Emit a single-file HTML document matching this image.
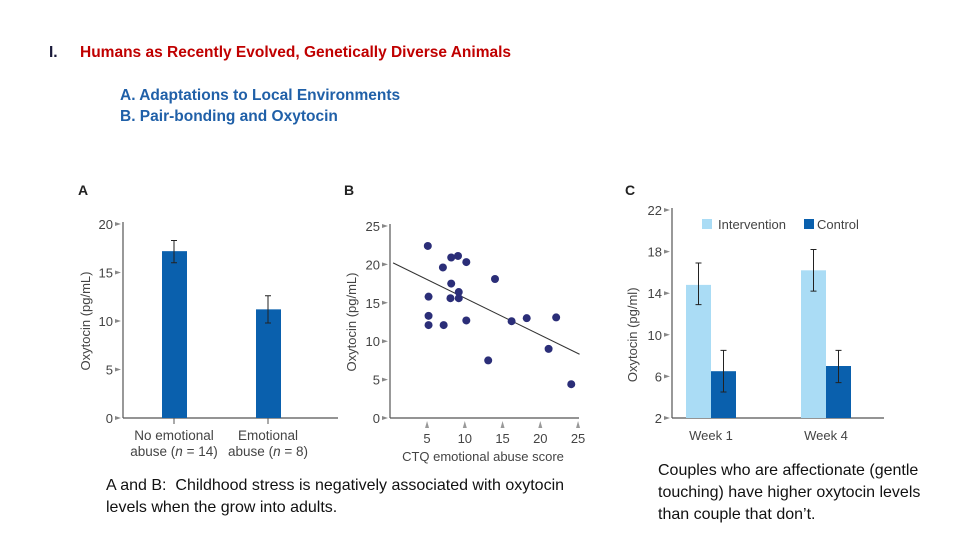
<!DOCTYPE html>
<html><head><meta charset="utf-8"><style>
body{margin:0;width:960px;height:540px;background:#fff;overflow:hidden;font-family:"Liberation Sans",sans-serif}
svg{position:absolute;left:0;top:0}
.t{position:absolute;white-space:nowrap}
</style></head><body>
<div class="t" style="left:49px;top:44px;font-size:15.5px;font-weight:bold;color:#1a1a3a">I.</div>
<div class="t" style="left:80px;top:44px;font-size:15.5px;font-weight:bold;color:#c00000">Humans as Recently Evolved, Genetically Diverse Animals</div>
<div class="t" style="left:120px;top:87px;font-size:15.5px;font-weight:bold;color:#2060a8">A. Adaptations to Local Environments</div>
<div class="t" style="left:120px;top:108px;font-size:15.5px;font-weight:bold;color:#2060a8">B. Pair-bonding and Oxytocin</div>
<div class="t" style="left:106px;top:475px;font-size:16px;line-height:22px;color:#111">A and B:&nbsp; Childhood stress is negatively associated with oxytocin<br>levels when the grow into adults.</div>
<div class="t" style="left:658px;top:460px;font-size:16px;line-height:22px;color:#111">Couples who are affectionate (gentle<br>touching) have higher oxytocin levels<br>than couple that don’t.</div>
<svg id="s" width="960" height="540" font-family="Liberation Sans, sans-serif"></svg>
<script>
// Chart A
const aCats=["No emotional|abuse (n = 14)","Emotional|abuse (n = 8)"];
const aVals=[17.2,11.2];
const aLo=[16.0,9.8];
const aHi=[18.3,12.6];
const aTicks=[0,5,10,15,20];
// Chart B
const bX=[5.1,5.2,5.2,5.2,7.1,7.2,8.2,8.2,8.1,9.1,9.2,9.2,10.2,10.2,14.0,13.1,16.2,18.2,22.1,21.1,24.1];
const bY=[22.4,15.8,13.3,12.1,19.6,12.1,20.9,17.5,15.6,21.1,16.4,15.6,20.3,12.7,18.1,7.5,12.6,13.0,13.1,9.0,4.4];
const bFit=[[0.5,20.2],[25.2,8.3]];
const bYTicks=[0,5,10,15,20,25];
const bXTicks=[5,10,15,20,25];
// Chart C
const cCats=["Week 1","Week 4"];
const cInt=[14.8,16.2];
const cIntLo=[12.9,14.2];
const cIntHi=[16.9,18.2];
const cCtl=[6.5,7.0];
const cCtlLo=[4.5,5.4];
const cCtlHi=[8.5,8.5];
const cTicks=[2,6,10,14,18,22];

const s=document.getElementById('s');
const NS='http://www.w3.org/2000/svg';
function el(tag,at,txt){const e=document.createElementNS(NS,tag);for(const k in at)e.setAttribute(k,at[k]);if(txt!==undefined)e.textContent=txt;s.appendChild(e);return e;}
const AX='#555',TX='#444',DARK='#0a60ad',LIGHT='#aadcf5',DOT='#2b2e78';

// ---- A ----
const ay=v=>418-(v/20)*194;
let e;
e=el('text',{x:78,y:195,'font-size':14,'font-weight':'bold',fill:'#222'},'A');

e=el('line',{x1:123,y1:222,x2:123,y2:418,stroke:AX,'stroke-width':1.2});

e=el('line',{x1:123,y1:418,x2:338,y2:418,stroke:AX,'stroke-width':1.2});

aTicks.forEach(t=>{const y=ay(t);
 e=el('polygon',{points:`115,${y-2} 121,${y} 115,${y+2}`,fill:'#888'});
 
 e=el('text',{x:113,y:y+5,'font-size':13,fill:TX,'text-anchor':'end'},t);
 });
e=el('text',{x:0,y:0,'font-size':13,fill:TX,'text-anchor':'middle',transform:`translate(90,${ay(10)}) rotate(-90)`},'Oxytocin (pg/mL)');

const aCx=[174,268];
aVals.forEach((v,i)=>{const cx=aCx[i];
 e=el('rect',{x:cx-12,y:ay(v),width:25,height:418-ay(v),fill:DARK});
 
 e=el('path',{d:`M${cx} ${ay(aLo[i])}V${ay(aHi[i])}M${cx-3} ${ay(aLo[i])}h6M${cx-3} ${ay(aHi[i])}h6`,stroke:'#222','stroke-width':1,fill:'none'});
 
 e=el('line',{x1:cx,y1:418,x2:cx,y2:424,stroke:AX});
 const parts=aCats[i].split('|');
 parts.forEach((p,j)=>{e=el('text',{x:cx,y:440+j*16,'font-size':13.5,fill:TX,'text-anchor':'middle'});
 
 const m=p.match(/^(.*\()n( = .*)$/);
 if(m){const t1=document.createElementNS(NS,'tspan');t1.textContent=m[1];e.appendChild(t1);
  const t2=document.createElementNS(NS,'tspan');t2.setAttribute('font-style','italic');t2.textContent='n';e.appendChild(t2);
  const t3=document.createElementNS(NS,'tspan');t3.textContent=m[2];e.appendChild(t3);}
 else e.textContent=p;});
});

// ---- B ----
const bx=v=>389.3+v*7.55, by=v=>418-(v/25)*192;
e=el('text',{x:344,y:195,'font-size':14,'font-weight':'bold',fill:'#222'},'B');

e=el('line',{x1:390,y1:224,x2:390,y2:418,stroke:AX,'stroke-width':1.2});

e=el('line',{x1:390,y1:418,x2:579,y2:418,stroke:AX,'stroke-width':1.2});

bYTicks.forEach(t=>{const y=by(t);
 e=el('polygon',{points:`382,${y-2} 388,${y} 382,${y+2}`,fill:'#888'});
 
 e=el('text',{x:380,y:y+5,'font-size':13,fill:TX,'text-anchor':'end'},t);
 });
bXTicks.forEach(t=>{const x=bx(t);
 e=el('polygon',{points:`${x-2},428 ${x},421 ${x+2},428`,fill:'#999'});
 
 e=el('text',{x:x,y:443,'font-size':13,fill:TX,'text-anchor':'middle'},t);
 });
e=el('text',{x:483,y:461,'font-size':13,fill:TX,'text-anchor':'middle'},'CTQ emotional abuse score');

e=el('text',{x:0,y:0,'font-size':13,fill:TX,'text-anchor':'middle',transform:`translate(356,${by(12.5)}) rotate(-90)`},'Oxytocin (pg/mL)');

e=el('line',{x1:bx(bFit[0][0]),y1:by(bFit[0][1]),x2:bx(bFit[1][0]),y2:by(bFit[1][1]),stroke:'#333','stroke-width':1});

bX.forEach((x,i)=>{e=el('circle',{cx:bx(x),cy:by(bY[i]),r:4,fill:DOT});
 });

// ---- C ----
const cy=v=>418-((v-2)/20)*208;
e=el('text',{x:625,y:195,'font-size':14,'font-weight':'bold',fill:'#222'},'C');

e=el('line',{x1:672,y1:208,x2:672,y2:418,stroke:AX,'stroke-width':1.2});

e=el('line',{x1:672,y1:418,x2:884,y2:418,stroke:AX,'stroke-width':1.2});

cTicks.forEach(t=>{const y=cy(t);
 e=el('polygon',{points:`664,${y-2} 670,${y} 664,${y+2}`,fill:'#888'});
 
 e=el('text',{x:662,y:y+5,'font-size':13,fill:TX,'text-anchor':'end'},t);
 });
e=el('text',{x:0,y:0,'font-size':13,fill:TX,'text-anchor':'middle',transform:`translate(637,${cy(10)}) rotate(-90)`},'Oxytocin (pg/ml)');

const cCx=[711,826];
function cbar(x,v,lo,hi,col,name){
 e=el('rect',{x:x,y:cy(v),width:25,height:418-cy(v),fill:col});
 
 const m=x+12.5;
 e=el('path',{d:`M${m} ${cy(lo)}V${cy(hi)}M${m-3} ${cy(lo)}h6M${m-3} ${cy(hi)}h6`,stroke:'#222','stroke-width':1,fill:'none'});
 }
cCats.forEach((c,i)=>{const m=cCx[i];
 cbar(m-25,cInt[i],cIntLo[i],cIntHi[i],LIGHT,'c-intervention-bar-'+(i+1));
 cbar(m,cCtl[i],cCtlLo[i],cCtlHi[i],DARK,'c-control-bar-'+(i+1));
 e=el('text',{x:m,y:440,'font-size':13,fill:TX,'text-anchor':'middle'},c);
 });
e=el('rect',{x:702,y:219,width:10,height:10,fill:LIGHT});

e=el('text',{x:718,y:229,'font-size':13,fill:TX},'Intervention');

e=el('rect',{x:804,y:219,width:10,height:10,fill:DARK});

e=el('text',{x:817,y:229,'font-size':13,fill:TX},'Control');

</script>
</body></html>
